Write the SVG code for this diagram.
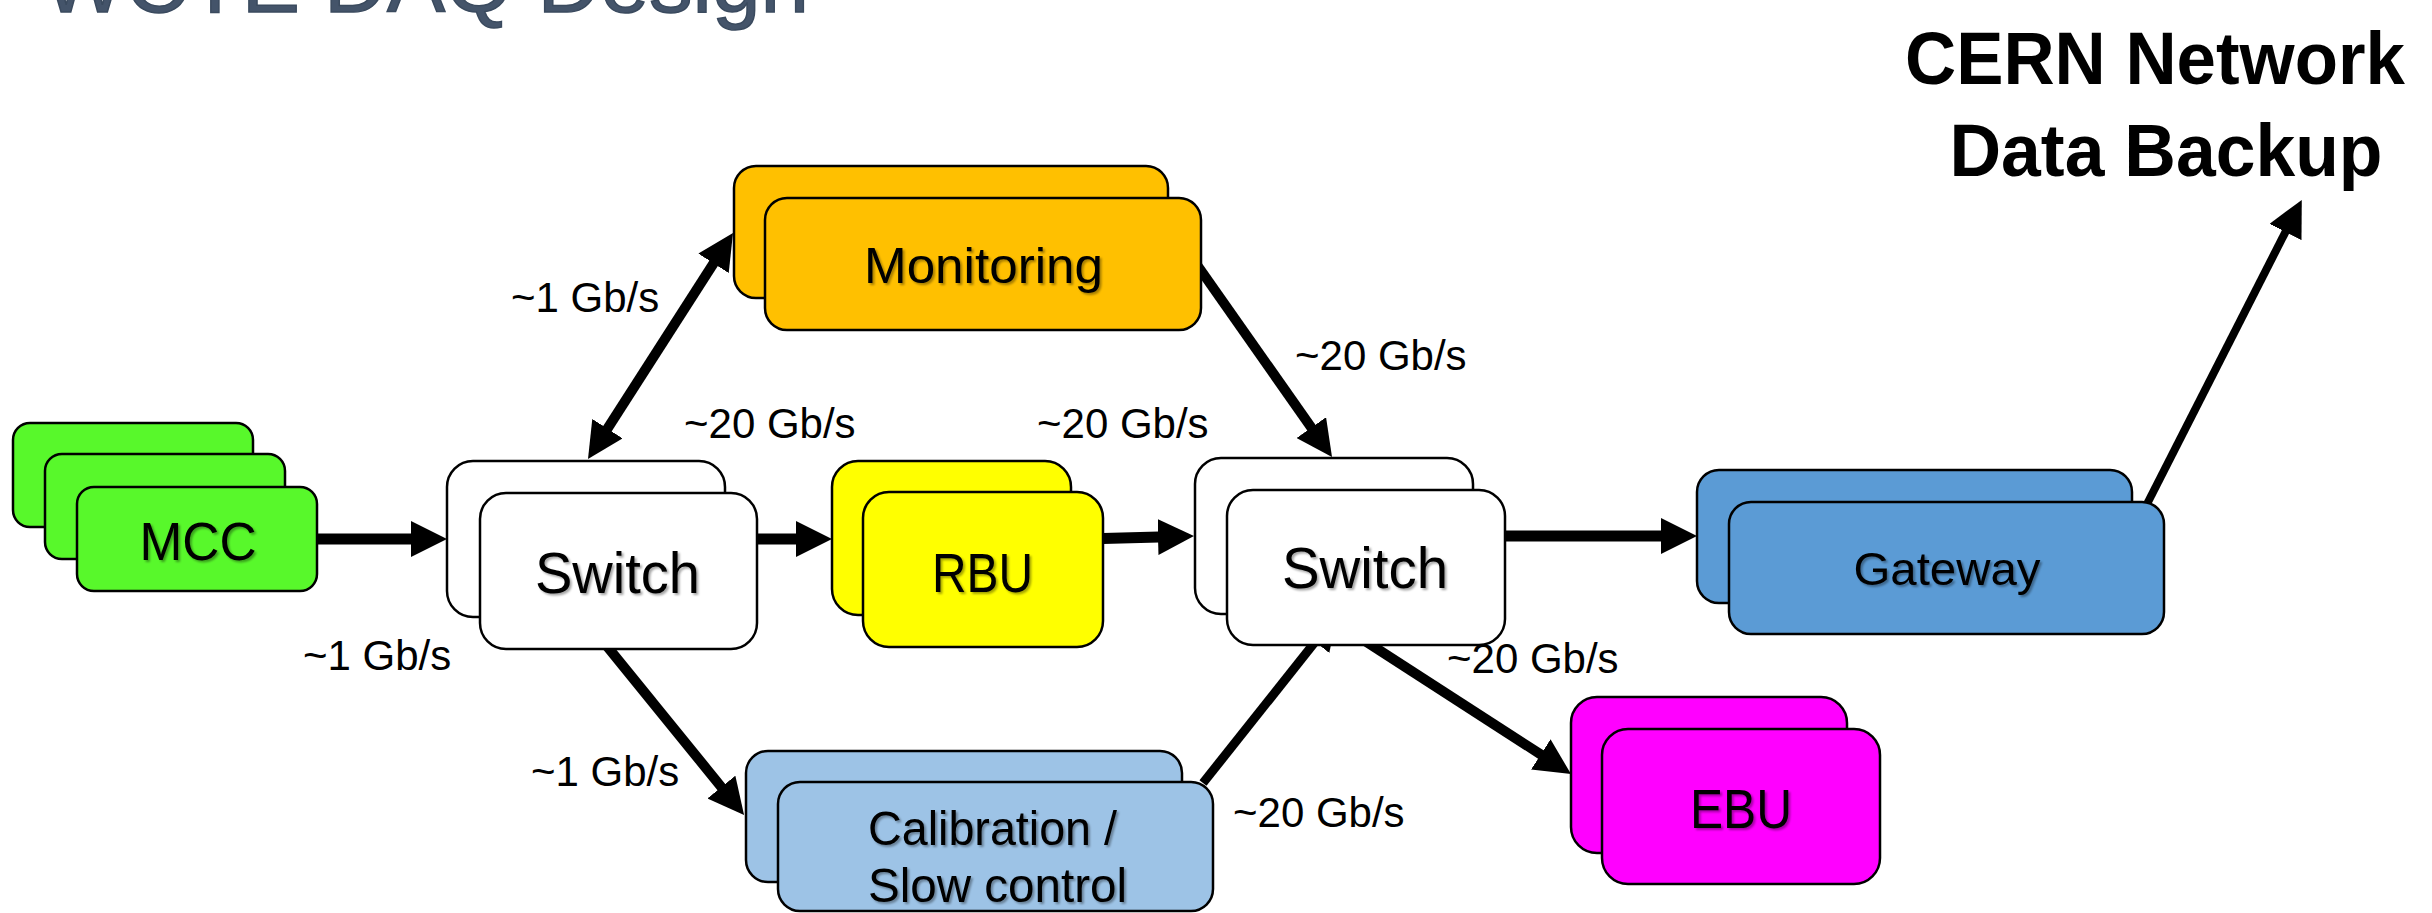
<svg xmlns="http://www.w3.org/2000/svg" width="2432" height="913" viewBox="0 0 2432 913">
<style>
.box{stroke:#000;stroke-width:2.5}
.lbl{font-family:"Liberation Sans",Arial,sans-serif;fill:#000;text-anchor:middle}
.rate{font-family:"Liberation Sans",Arial,sans-serif;font-size:42px;fill:#000}
.conn{stroke:#000;fill:none}
.title{font-family:"Liberation Sans",Arial,sans-serif;font-size:88px;fill:#44546A;stroke:#3A4A5E;stroke-width:1.5}
.big{font-family:"Liberation Sans",Arial,sans-serif;font-weight:bold;font-size:74px;fill:#000;text-anchor:middle}
</style>
<defs>
<marker id="ah" markerUnits="userSpaceOnUse" markerWidth="36" markerHeight="36" viewBox="0 0 36 36" refX="1" refY="18" orient="auto-start-reverse">
<path d="M0,0 L36,18 L0,36 z" fill="#000"/>
</marker>
<filter id="ts" x="-10%" y="-20%" width="125%" height="150%">
<feDropShadow dx="2" dy="2" stdDeviation="1.3" flood-color="#000" flood-opacity="0.35"/>
</filter>
</defs>
<rect width="2432" height="913" fill="#fff"/>

<text class="title" x="43" y="12" textLength="766" lengthAdjust="spacingAndGlyphs">WCTE DAQ Design</text>

<g id="cern">
<text class="big" x="2155" y="84" textLength="500" lengthAdjust="spacingAndGlyphs">CERN Network</text>
<text class="big" x="2166" y="176" textLength="433" lengthAdjust="spacingAndGlyphs">Data Backup</text>
</g>

<g id="connectors">
<line class="conn" stroke-width="11" x1="317" y1="539" x2="412" y2="539" marker-end="url(#ah)"/>
<line class="conn" stroke-width="11" x1="757" y1="539" x2="797" y2="539" marker-end="url(#ah)"/>
<line class="conn" stroke-width="11" x1="1103" y1="538.5" x2="1159" y2="537" marker-end="url(#ah)"/>
<line class="conn" stroke-width="11" x1="1505" y1="536" x2="1662" y2="536" marker-end="url(#ah)"/>
<line class="conn" stroke-width="10" x1="606.9" y1="429.5" x2="714.1" y2="262.5" marker-start="url(#ah)" marker-end="url(#ah)"/>
<line class="conn" stroke-width="10" x1="1195" y1="262" x2="1311.9" y2="428.4" marker-end="url(#ah)"/>
<line class="conn" stroke-width="10" x1="606" y1="645" x2="722" y2="787.8" marker-end="url(#ah)"/>
<line class="conn" stroke-width="9" x1="1203" y1="783" x2="1315.8" y2="641" marker-end="url(#ah)"/>
<line class="conn" stroke-width="10" x1="1362" y1="639" x2="1541.6" y2="755" marker-end="url(#ah)"/>
<line class="conn" stroke-width="8" x1="2146" y1="506" x2="2285.9" y2="231.1" marker-end="url(#ah)"/>
</g>

<g id="rates">
<text class="rate" x="303" y="670">~1 Gb/s</text>
<text class="rate" x="511" y="312">~1 Gb/s</text>
<text class="rate" x="684" y="438">~20 Gb/s</text>
<text class="rate" x="1037" y="438">~20 Gb/s</text>
<text class="rate" x="1295" y="370">~20 Gb/s</text>
<text class="rate" x="531" y="786">~1 Gb/s</text>
<text class="rate" x="1233" y="827">~20 Gb/s</text>
<text class="rate" x="1447" y="673">~20 Gb/s</text>
</g>

<g id="mcc">
<rect class="box" x="13" y="423" width="240" height="104" rx="17" fill="#58F82B"/>
<rect class="box" x="45" y="454" width="240" height="105" rx="17" fill="#58F82B"/>
<rect class="box" x="77" y="487" width="240" height="104" rx="17" fill="#58F82B"/>
<text class="lbl" x="198" y="560" font-size="54" textLength="117" lengthAdjust="spacingAndGlyphs" filter="url(#ts)">MCC</text>
</g>

<g id="switch1">
<rect class="box" x="447" y="461" width="278" height="156" rx="26" fill="#fff"/>
<rect class="box" x="480" y="493" width="277" height="156" rx="26" fill="#fff"/>
<text class="lbl" x="617.5" y="593" font-size="58" textLength="165" lengthAdjust="spacingAndGlyphs" filter="url(#ts)">Switch</text>
</g>

<g id="rbu">
<rect class="box" x="832" y="461" width="239" height="154" rx="26" fill="#FFFF00"/>
<rect class="box" x="863" y="492" width="240" height="155" rx="26" fill="#FFFF00"/>
<text class="lbl" x="982.5" y="592" font-size="56" textLength="101" lengthAdjust="spacingAndGlyphs" filter="url(#ts)">RBU</text>
</g>

<g id="switch2">
<rect class="box" x="1195" y="458" width="278" height="156" rx="26" fill="#fff"/>
<rect class="box" x="1227" y="490" width="278" height="155" rx="26" fill="#fff"/>
<text class="lbl" x="1365" y="588" font-size="58" textLength="166" lengthAdjust="spacingAndGlyphs" filter="url(#ts)">Switch</text>
</g>

<g id="monitoring">
<rect class="box" x="734" y="166" width="434" height="132" rx="22" fill="#FFC000"/>
<rect class="box" x="765" y="198" width="436" height="132" rx="22" fill="#FFC000"/>
<text class="lbl" x="983.5" y="283" font-size="50" textLength="239" lengthAdjust="spacingAndGlyphs" filter="url(#ts)">Monitoring</text>
</g>

<g id="calibration">
<rect class="box" x="746" y="751" width="436" height="131" rx="22" fill="#9DC3E6"/>
<rect class="box" x="778" y="782" width="435" height="129" rx="22" fill="#9DC3E6"/>
<text class="lbl" x="992.5" y="845" font-size="49" textLength="249" lengthAdjust="spacingAndGlyphs" filter="url(#ts)">Calibration /</text>
<text class="lbl" x="997.5" y="902" font-size="49" textLength="259" lengthAdjust="spacingAndGlyphs" filter="url(#ts)">Slow control</text>
</g>

<g id="gateway">
<rect class="box" x="1697" y="470" width="435" height="133" rx="22" fill="#5B9BD5"/>
<rect class="box" x="1729" y="502" width="435" height="132" rx="22" fill="#5B9BD5"/>
<text class="lbl" x="1947" y="585" font-size="47" textLength="187" lengthAdjust="spacingAndGlyphs" filter="url(#ts)">Gateway</text>
</g>

<g id="ebu">
<rect class="box" x="1571" y="697" width="276" height="156" rx="26" fill="#FF00FF"/>
<rect class="box" x="1602" y="729" width="278" height="155" rx="26" fill="#FF00FF"/>
<text class="lbl" x="1741" y="828" font-size="56" textLength="102" lengthAdjust="spacingAndGlyphs" filter="url(#ts)">EBU</text>
</g>
</svg>
